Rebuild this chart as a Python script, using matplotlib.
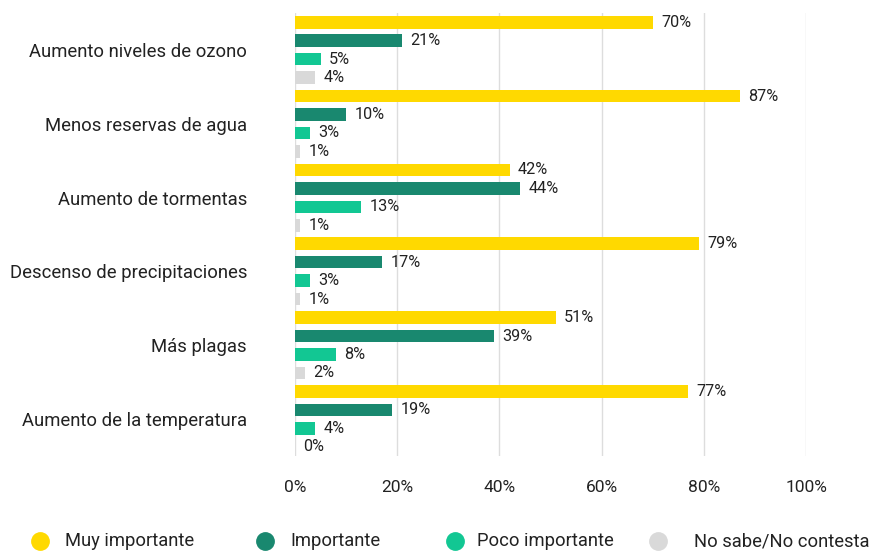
import matplotlib
matplotlib.use("Agg")
import matplotlib.pyplot as plt
import numpy as np

plt.rcParams['font.family'] = ['Roboto', 'DejaVu Sans']

categories = ["Aumento niveles de ozono", "Menos reservas de agua", "Aumento de tormentas",
              "Descenso de precipitaciones", "Más plagas", "Aumento de la temperatura"]
series_names = ["Muy importante", "Importante", "Poco importante", "No sabe/No contesta"]
muy_importante = [70, 87, 42, 79, 51, 77]
importante = [21, 10, 44, 17, 39, 19]
poco_importante = [5, 3, 13, 3, 8, 4]
no_sabe = [4, 1, 1, 1, 2, 0]
xticks = [0, 20, 40, 60, 80, 100]
xtick_labels = ["0%", "20%", "40%", "60%", "80%", "100%"]

colors = ["#FFD900", "#19886F", "#12C793", "#D9D9D9"]
series = [muy_importante, importante, poco_importante, no_sabe]
text_color = "#222222"

W, H = 872, 553
fig = plt.figure(figsize=(W / 100, H / 100), dpi=100)
ax = fig.add_axes([295 / W, 1 - 456 / H, 511 / W, 443 / H])

n_series = len(series)
for s, (vals, col) in enumerate(zip(series, colors)):
    ys = [g * n_series + s for g in range(len(categories))]
    ax.barh(ys, vals, height=0.68, color=col, zorder=3)
    for y, v in zip(ys, vals):
        ax.annotate(f"{v}%", (v, y), xytext=(6, 0), textcoords="offset points",
                    va="center", ha="left", fontsize=11.7, color=text_color)

ax.set_ylim(len(categories) * n_series - 0.5, -0.5)
ax.set_xlim(0, 100)
ax.set_xticks(xticks)
ax.set_xticklabels(xtick_labels, fontsize=12.5, color=text_color)
ax.set_yticks([g * n_series + 1.5 for g in range(len(categories))])
ax.set_yticklabels(categories, fontsize=13.3, color=text_color)
ax.tick_params(axis='both', length=0)
ax.tick_params(axis='x', pad=17)
ax.tick_params(axis='y', pad=34.5)
for sp in ax.spines.values():
    sp.set_visible(False)
ax.grid(axis='x', color="#DDDDDD", linewidth=1, zorder=0)
ax.set_axisbelow(True)

# legend row drawn in a pixel-coordinate overlay axes
lax = fig.add_axes([0, 0, 1, 1], facecolor='none')
lax.set_xlim(0, W)
lax.set_ylim(H, 0)
lax.axis('off')
marker_x = [40, 265, 455, 658]
text_x = [65, 290, 477, 694]
leg_y = 541
for mx, tx, name, col in zip(marker_x, text_x, series_names, colors):
    lax.plot([mx], [leg_y], marker='o', markersize=12.5, color=col, linestyle='')
    lax.text(tx, leg_y, name, va='center', ha='left', fontsize=13.2, color=text_color)

fig.savefig("out.png", dpi=100)
